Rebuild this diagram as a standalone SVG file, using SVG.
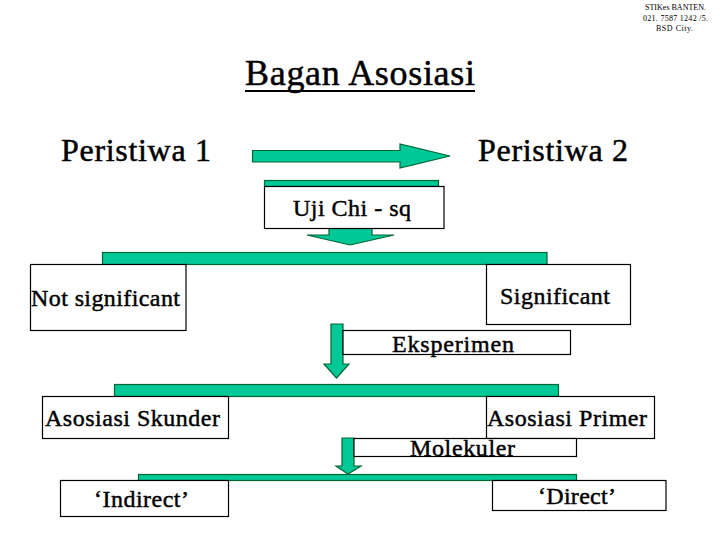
<svg xmlns="http://www.w3.org/2000/svg" width="720" height="540" viewBox="0 0 720 540">
<style>
text{font-family:"Liberation Serif","Times New Roman",serif;fill:#000}
.t{font-size:24px;stroke:#000;stroke-width:.45px}
.h{font-size:36px;stroke:#000;stroke-width:.5px}
.p{font-size:32px;stroke:#000;stroke-width:.5px}
.s{font-size:8px}
.b{fill:#fff;stroke:#000;stroke-width:1.2}
.g{fill:#00c896;stroke:#063;stroke-width:1.2}
</style>
<rect width="720" height="540" fill="#fff"/>
<g id="connectors">
<path class="g" d="M252.500 150.500H400V144L450 156L400 168V162H252.500Z"/>
<rect class="g" x="264.500" y="180.500" width="174" height="6"/>
<path class="g" d="M329 228V235H307L350 245L394 235H372V228Z"/>
<rect class="g" x="102.500" y="252.500" width="444.500" height="12"/>
<path class="g" d="M331 324H343V364H349L336.500 378L324 364H331Z"/>
<rect class="g" x="114.500" y="384.500" width="444" height="12"/>
<path class="g" d="M342 438H354V466H361L348 474L336 466H342Z"/>
<rect class="g" x="138.500" y="474.500" width="438" height="6"/>
</g>
<g id="stamp"><text class="s" x="645" y="10" textLength="61">STIKes BANTEN.</text><text class="s" x="643" y="21" textLength="65">021. 7587 1242 /5.</text><text class="s" x="656" y="31" textLength="37">BSD City.</text></g>
<g id="title"><text class="h" x="245" y="85" textLength="230">Bagan Asosiasi</text><line x1="245" y1="91" x2="475" y2="91" stroke="#000" stroke-width="2"/></g>
<g id="n1"><text class="p" x="61" y="161" textLength="150">Peristiwa 1</text></g>
<g id="n2"><text class="p" x="478" y="161" textLength="150">Peristiwa 2</text></g>
<g id="n3"><rect class="b" x="264.500" y="186.500" width="179.500" height="42"/><text class="t" x="293" y="216" textLength="118">Uji Chi - sq</text></g>
<g id="n4"><rect class="b" x="30.500" y="264.500" width="155.500" height="66"/><text class="t" x="31" y="306" textLength="149">Not significant</text></g>
<g id="n5"><rect class="b" x="486.500" y="264.500" width="144" height="60"/><text class="t" x="500" y="304" textLength="110">Significant</text></g>
<g id="n6"><rect class="b" x="343" y="330.500" width="227.500" height="24"/><text class="t" x="392" y="352" textLength="122">Eksperimen</text></g>
<g id="n7"><rect class="b" x="42.500" y="396.500" width="186" height="42"/><text class="t" x="45" y="426" textLength="175">Asosiasi Skunder</text></g>
<g id="n8"><rect class="b" x="486.500" y="396.500" width="168" height="42"/><text class="t" x="487" y="426" textLength="160">Asosiasi Primer</text></g>
<g id="n9"><rect class="b" x="354" y="438.500" width="222.500" height="18"/><text class="t" x="410" y="456" textLength="105">Molekuler</text></g>
<g id="n10"><rect class="b" x="60.500" y="480.500" width="168" height="36"/><text class="t" x="94" y="507" textLength="95">‘Indirect’</text></g>
<g id="n11"><rect class="b" x="492.500" y="480.500" width="173.500" height="30"/><text class="t" x="538" y="504" textLength="78">‘Direct’</text></g>
</svg>
